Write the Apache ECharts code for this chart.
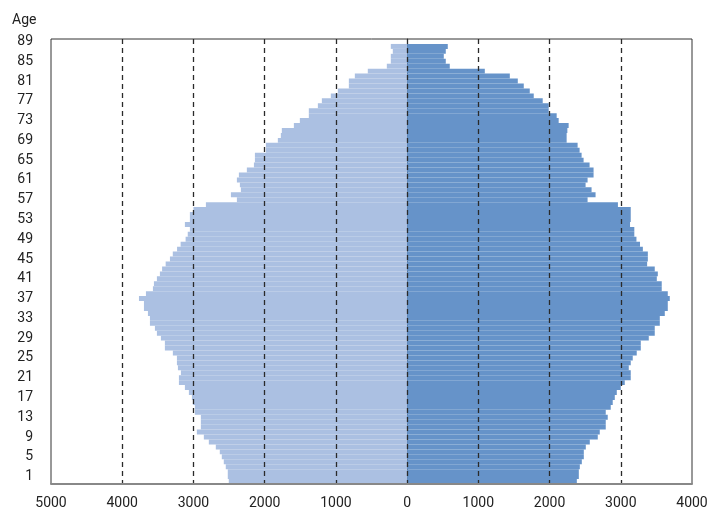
<!DOCTYPE html>
<html>
<head>
<meta charset="utf-8">
<script src="https://cdn.jsdelivr.net/npm/echarts@6/dist/echarts.min.js"></script>
<style>
  html, body { margin: 0; padding: 0; background: #fff; }
  #container { width: 724px; height: 511px; }
</style>
</head>
<body>
<div id="container"></div>
<script>
// ages 0..89 (top slot 89 is empty in the source picture)
var ages = [];
for (var a = 0; a <= 89; a++) { ages.push(String(a)); }

// left side of the pyramid (drawn to the left of 0)
var leftValues = [
  2504, 2518, 2518, 2546, 2574, 2602, 2630, 2686, 2784, 2854,
  2952, 2896, 2896, 2896, 2980, 2980, 3008, 3022, 3064, 3120,
  3204, 3204, 3176, 3218, 3232, 3232, 3289, 3401, 3401, 3457,
  3513, 3541, 3611, 3611, 3639, 3695, 3695, 3765, 3667, 3569,
  3555, 3513, 3471, 3440, 3390, 3330, 3290, 3230, 3180, 3110,
  3080, 3050, 3120, 3050, 3050, 3000, 2825, 2390, 2474, 2334,
  2348, 2390, 2362, 2250, 2151, 2137, 2137, 1983, 1983, 1815,
  1773, 1759, 1590, 1506, 1380, 1380, 1253, 1197, 1071, 973,
  818, 818, 734, 552, 285, 229, 229, 201, 229, null
];

// right side of the pyramid
var rightValues = [
  2383, 2411, 2411, 2425, 2453, 2481, 2481, 2509, 2565, 2677,
  2705, 2789, 2789, 2817, 2789, 2859, 2887, 2916, 2944, 3000,
  3056, 3140, 3140, 3112, 3140, 3168, 3224, 3281, 3281, 3393,
  3477, 3477, 3548, 3548, 3618, 3660, 3660, 3688, 3660, 3575,
  3575, 3506, 3520, 3477, 3370, 3380, 3380, 3310, 3270, 3220,
  3190, 3190, 3130, 3140, 3140, 3140, 2960, 2534, 2646, 2590,
  2506, 2534, 2618, 2618, 2562, 2478, 2450, 2422, 2394, 2240,
  2240, 2250, 2268, 2128, 2100, 1988, 1988, 1904, 1778, 1722,
  1638, 1554, 1442, 1091, 599, 543, 515, 543, 571, null
];

var xMin = -5000, xMax = 4000, xStep = 1000;

var dom = document.getElementById("container");
var myChart = echarts.init(dom);
var option = null;

option = {
    animation: false,
    title: {
        text: 'Age',
        left: 7,
        top: 8,
        textStyle: { fontFamily: 'Roboto', fontSize: 14, fontWeight: 'normal', color: '#222' }
    },
    grid: {
        left: 51, right: 32, top: 39, bottom: 27,
        show: true,
        borderColor: '#333',
        borderWidth: 1
    },
    xAxis: {
        type: 'value',
        min: xMin,
        max: xMax,
        interval: xStep,
        z: 5,
        axisLine: { show: true, lineStyle: { color: '#888', width: 2 } },
        axisTick: { show: false },
        axisLabel: {
            fontFamily: 'Roboto',
            fontSize: 14,
            color: '#222',
            margin: 12,
            formatter: function (v) { return Math.abs(v); }
        },
        splitLine: {
            show: true,
            showMinLine: false,
            showMaxLine: false,
            lineStyle: { color: '#2a2a2a', type: [5, 4], width: 1.3 }
        }
    },
    yAxis: {
        type: 'category',
        data: ages,
        axisLine: { show: true, lineStyle: { color: '#333' } },
        axisTick: { show: false },
        axisLabel: {
            fontFamily: 'Roboto',
            fontSize: 14,
            color: '#222',
            margin: 18,
            padding: [5, 0, 0, 0],
            interval: function (index) { return (index - 1) % 4 === 0; }
        },
        splitLine: { show: false }
    },
    series: [
        {
            name: 'Left',
            type: 'bar',
            stack: 'pop',
            barCategoryGap: '0%',
            itemStyle: { color: '#abc0e2' },
            data: leftValues.map(function (v) { return v == null ? null : -v; })
        },
        {
            name: 'Right',
            type: 'bar',
            stack: 'pop',
            barCategoryGap: '0%',
            itemStyle: { color: '#6693c9' },
            data: rightValues
        }
    ]
};

if (option && typeof option === "object") {
    myChart.setOption(option, true);
}
</script>
</body>
</html>
